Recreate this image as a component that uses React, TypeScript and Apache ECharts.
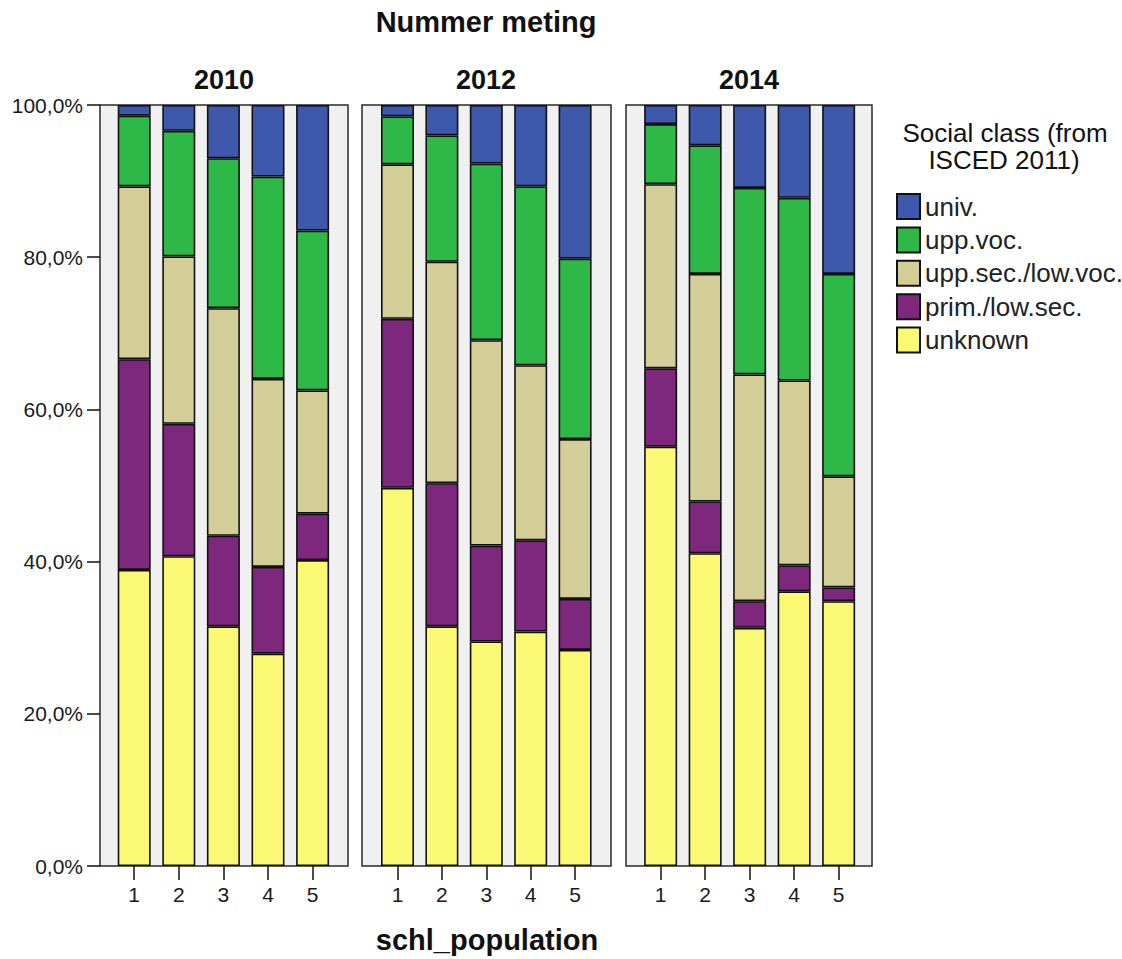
import React, { useEffect, useRef } from "react";
import * as echarts from "echarts";

const panels = ["2010", "2012", "2014"];
const schools = ["1", "2", "3", "4", "5"];
const classNames = ["unknown", "prim./low.sec.", "upp.sec./low.voc.", "upp.voc.", "univ."];
const legendOrder = ["univ.", "upp.voc.", "upp.sec./low.voc.", "prim./low.sec.", "unknown"];
const classColors = ["#fbf873", "#7d287d", "#d3ce97", "#2eb848", "#3e58ac"];

// percentages per class per school 1..5
const unknown2010 = [38.9, 40.7, 31.5, 27.9, 40.2];
const prim2010 = [27.7, 17.4, 11.9, 11.4, 6.1];
const uppSec2010 = [22.7, 22.0, 29.9, 24.7, 16.2];
const uppVoc2010 = [9.3, 16.5, 19.7, 26.6, 21.0];
const univ2010 = [1.4, 3.4, 7.0, 9.4, 16.5];

const unknown2012 = [49.7, 31.5, 29.5, 30.8, 28.4];
const prim2012 = [22.2, 18.8, 12.6, 12.0, 6.7];
const uppSec2012 = [20.3, 29.1, 27.0, 23.0, 21.0];
const uppVoc2012 = [6.3, 16.6, 23.2, 23.5, 23.7];
const univ2012 = [1.5, 4.0, 7.7, 10.7, 20.2];

const unknown2014 = [55.1, 41.1, 31.3, 36.1, 34.8];
const prim2014 = [10.3, 6.8, 3.5, 3.4, 1.8];
const uppSec2014 = [24.2, 29.9, 29.8, 24.3, 14.6];
const uppVoc2014 = [7.9, 16.9, 24.5, 24.0, 26.6];
const univ2014 = [2.5, 5.3, 10.9, 12.2, 22.2];

const panelData = [
  [unknown2010, prim2010, uppSec2010, uppVoc2010, univ2010],
  [unknown2012, prim2012, uppSec2012, uppVoc2012, univ2012],
  [unknown2014, prim2014, uppSec2014, uppVoc2014, univ2014],
];

const FONT = "'Liberation Sans', Arial, sans-serif";

export default function App() {
  const ref = useRef<HTMLDivElement>(null);
  useEffect(() => {
    if (!ref.current) return;
    const chart = echarts.init(ref.current, null, { renderer: "svg" });
    // panel frames (background + border)
    const frameLefts = [100, 362, 626];
    const frameWidths = [248, 249, 246];
    // inner plotting areas for bars
    const innerLefts = [111.9, 375.3, 638.4];
    const innerWidths = [223, 222, 222.5];
    const grids: any[] = [];
    frameLefts.forEach((l, i) => {
      grids.push({
        left: l,
        top: 105,
        width: frameWidths[i],
        height: 761,
        show: true,
        backgroundColor: "#f0f0f0",
        borderColor: "#2a2a2a",
        borderWidth: 1.5,
      });
    });
    innerLefts.forEach((l, i) => {
      grids.push({ left: l, top: 105, width: innerWidths[i], height: 761, show: false });
    });
    const xAxes: any[] = [];
    const yAxes: any[] = [];
    panels.forEach((_, i) => {
      xAxes.push({ type: "value", gridIndex: i, show: false, min: 0, max: 1 });
      yAxes.push({
        type: "value",
        gridIndex: i,
        min: 0,
        max: 100,
        interval: 20,
        axisLine: { show: false },
        splitLine: { show: false },
        axisTick: { show: i === 0, length: 13, lineStyle: { color: "#111", width: 1.5 } },
        axisLabel: {
          show: i === 0,
          margin: 17,
          fontSize: 21,
          color: "#1a1a1a",
          fontFamily: FONT,
          formatter: (v: number) => v.toFixed(1).replace(".", ",") + "%",
        },
      });
    });
    panels.forEach((_, i) => {
      xAxes.push({
        type: "category",
        gridIndex: 3 + i,
        data: schools,
        axisLine: { show: false },
        splitLine: { show: false },
        axisTick: { show: true, alignWithLabel: true, length: 14, lineStyle: { color: "#111", width: 1.5 } },
        axisLabel: { margin: 18, fontSize: 21, color: "#1a1a1a", fontFamily: FONT },
      });
      yAxes.push({ type: "value", gridIndex: 3 + i, min: 0, max: 100, show: false, splitLine: { show: false } });
    });
    const series: any[] = [];
    panels.forEach((p, pi) => {
      classNames.forEach((cn, ci) => {
        series.push({
          type: "bar",
          name: cn,
          xAxisIndex: 3 + pi,
          yAxisIndex: 3 + pi,
          stack: "s" + pi,
          barWidth: 33,
          data: panelData[pi][ci],
          itemStyle: { color: classColors[ci], borderColor: "#111", borderWidth: 1.6 },
          emphasis: { disabled: true },
        });
      });
    });
    const titleText = (text: string, x: number, y: number, size: number, bold = true) => ({
      type: "text",
      x,
      y,
      style: {
        text,
        align: "center",
        verticalAlign: "middle",
        fontSize: size,
        fontWeight: bold ? "bold" : "normal",
        fontFamily: FONT,
        fill: "#111",
      },
    });
    chart.setOption({
      animation: false,
      backgroundColor: "#ffffff",
      grid: grids,
      xAxis: xAxes,
      yAxis: yAxes,
      series,
      legend: {
        data: legendOrder,
        orient: "vertical",
        left: 891,
        top: 188,
        itemWidth: 23,
        itemHeight: 25,
        itemGap: 6.4,
        icon: "rect",
        selectedMode: false,
        textStyle: { fontSize: 26, lineHeight: 25, color: "#222", fontFamily: FONT },
      },
      graphic: [
        titleText("Nummer meting", 486, 22, 29),
        titleText("2010", 224, 80, 27),
        titleText("2012", 486, 80, 27),
        titleText("2014", 749, 80, 27),
        titleText("schl_population", 487, 940, 29),
        titleText("Social class (from", 1005, 133, 26, false),
        titleText("ISCED 2011)", 1004, 160, 26, false),
      ],
    });
    return () => chart.dispose();
  }, []);
  return (
    <div
      ref={ref}
      style={{ position: "fixed", left: 0, top: 0, width: 1122, height: 959, background: "#fff" }}
    />
  );
}
